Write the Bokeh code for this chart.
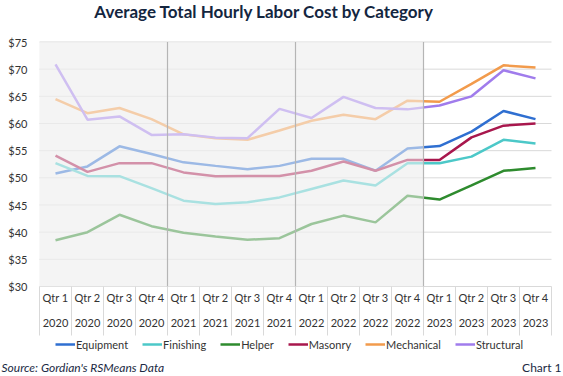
from bokeh.plotting import figure
from bokeh.models import Range1d, Legend, LegendItem, Label
from bokeh.core.properties import value
from bokeh.embed import file_html
from bokeh.resources import INLINE

quarters = ["Qtr 1", "Qtr 2", "Qtr 3", "Qtr 4"] * 4
years = ["2020"] * 4 + ["2021"] * 4 + ["2022"] * 4 + ["2023"] * 4

equipment = [50.8, 52.1, 55.8, 54.4, 52.85, 52.2, 51.6, 52.2, 53.5, 53.5, 51.3, 55.4, 55.85, 58.5, 62.3, 60.8]
finishing = [52.7, 50.35, 50.3, 48.1, 45.8, 45.2, 45.5, 46.4, 47.95, 49.5, 48.6, 52.7, 52.7, 53.9, 57.0, 56.3]
helper = [38.5, 40.0, 43.2, 41.1, 39.9, 39.2, 38.6, 38.9, 41.5, 43.05, 41.8, 46.7, 46.0, 48.6, 51.3, 51.8]
masonry = [54.1, 51.1, 52.7, 52.7, 51.0, 50.3, 50.35, 50.35, 51.3, 53.0, 51.3, 53.3, 53.3, 57.45, 59.6, 60.0]
mechanical = [64.5, 61.9, 62.85, 60.8, 58.0, 57.3, 57.0, 58.7, 60.5, 61.6, 60.8, 64.2, 64.0, 67.3, 70.7, 70.3]
structural = [70.9, 60.7, 61.3, 57.9, 58.0, 57.4, 57.3, 62.7, 61.0, 64.9, 62.85, 62.6, 63.3, 65.0, 69.8, 68.3]

series_names = ["Equipment", "Finishing", "Helper", "Masonry", "Mechanical", "Structural"]
series_values = [equipment, finishing, helper, masonry, mechanical, structural]
colors = ["#2f6fd1", "#4cc8c8", "#2e8b2e", "#a8174d", "#f29b4c", "#a07cec"]

y_ticks = [30, 35, 40, 45, 50, 55, 60, 65, 70, 75]
forecast_year = "2023"

FONT = "Lato"
W, H = 563, 376
n = len(quarters)
xs = list(range(n))

# pixel layout of the plotting area inside the full-canvas frame
px_per_cat = 32.0
first_center_px = 55.0
y_top_px, y_bot_px = 41.5, 286.0
px_per_unit = (y_bot_px - y_top_px) / (y_ticks[-1] - y_ticks[0])
x_start = -first_center_px / px_per_cat
x_end = (W - first_center_px) / px_per_cat
y_end = y_ticks[-1] + y_top_px / px_per_unit
y_start = y_ticks[-1] - (H - y_top_px) / px_per_unit


def ydata(py):
    return y_ticks[-1] - (py - y_top_px) / px_per_unit


def xdata(px):
    return (px - first_center_px) / px_per_cat


p = figure(width=W, height=H, output_backend="svg", toolbar_location=None,
           x_range=Range1d(x_start, x_end), y_range=Range1d(y_start, y_end),
           min_border=0, x_axis_location=None, y_axis_location=None, title_location=None)
p.outline_line_color = None
p.background_fill_color = "white"
p.border_fill_color = "white"
p.grid.visible = False

left_edge, right_edge = -0.5, n - 0.5
hist_end = years.index(forecast_year) - 0.5

# shaded historical region
p.quad(left=left_edge, right=hist_end, bottom=y_ticks[0], top=y_ticks[-1],
       fill_color="#e6e6e6", fill_alpha=0.5, line_color=None)

# horizontal gridlines
p.segment(x0=[left_edge] * len(y_ticks), y0=y_ticks, x1=[right_edge] * len(y_ticks), y1=y_ticks,
          line_color="#d9d9d9", line_width=1)

renderers = []
for name, vals, c in zip(series_names, series_values, colors):
    r = p.line(xs, vals, line_color=c, line_width=2.5)
    renderers.append((name, r))

# fading overlay over historical region
p.quad(left=left_edge, right=hist_end, bottom=y_ticks[0], top=y_ticks[-1],
       fill_color="#f5f5f5", fill_alpha=0.55, line_color=None)

# year dividers
dividers = [i - 0.5 for i in range(1, n) if years[i] != years[i - 1]]
p.segment(x0=dividers, y0=[y_ticks[0]] * len(dividers), x1=dividers, y1=[y_ticks[-1]] * len(dividers),
          line_color="#b5b5b5", line_width=1.2)

# y tick labels
p.text(x=[xdata(27)] * len(y_ticks), y=y_ticks, text=["$%d" % t for t in y_ticks],
       text_align="right", text_baseline="middle",
       text_font=value(FONT), text_font_size="11px", text_color="#333333")

# table of x labels
table_bottom = ydata(335)
bounds = [i - 0.5 for i in range(n + 1)]
p.segment(x0=bounds, y0=[y_ticks[0]] * len(bounds), x1=bounds, y1=[table_bottom] * len(bounds),
          line_color="#d9d9d9", line_width=1)
p.text(x=xs, y=[ydata(297)] * n, text=quarters, text_align="center", text_baseline="middle",
       text_font=value(FONT), text_font_size="11px", text_color="#333333")
p.text(x=xs, y=[ydata(322)] * n, text=years, text_align="center", text_baseline="middle",
       text_font=value(FONT), text_font_size="11px", text_color="#333333")

legend = Legend(items=[LegendItem(label=nm, renderers=[r]) for nm, r in renderers],
                orientation="horizontal", location=(55, H - 351),
                border_line_color=None, background_fill_alpha=0,
                label_text_font=FONT, label_text_font_size="11px", label_text_color="#333333",
                glyph_width=20, glyph_height=14, label_height=14, label_standoff=1,
                spacing=14, padding=0, margin=0)
p.add_layout(legend)

p.add_layout(Label(x=264, y=H - 11, x_units="screen", y_units="screen",
                   text="Average Total Hourly Labor Cost by Category",
                   text_align="center", text_baseline="middle",
                   text_font="Lato", text_font_style="bold",
                   text_font_size="17px", text_color="#14263f"))
p.add_layout(Label(x=1, y=H - 367, x_units="screen", y_units="screen",
                   text="Source: Gordian's RSMeans Data", text_align="left", text_baseline="middle",
                   text_font=FONT, text_font_style="italic", text_font_size="12px", text_color="#1b2a44"))
p.add_layout(Label(x=561, y=H - 367, x_units="screen", y_units="screen",
                   text="Chart 1", text_align="right", text_baseline="middle",
                   text_font=FONT, text_font_size="12px", text_color="#1b2a44"))

open("out.html", "w").write(file_html(p, INLINE))
